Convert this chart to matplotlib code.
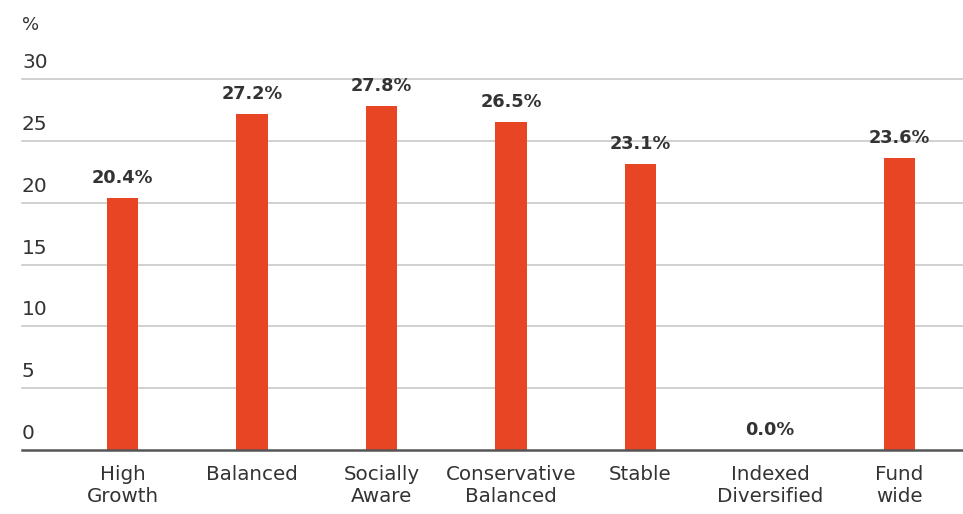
import matplotlib.pyplot as plt
from matplotlib.transforms import blended_transform_factory, offset_copy

categories = ["High\nGrowth", "Balanced", "Socially\nAware", "Conservative\nBalanced",
              "Stable", "Indexed\nDiversified", "Fund\nwide"]
values = [20.4, 27.2, 27.8, 26.5, 23.1, 0.0, 23.6]
labels = ["20.4%", "27.2%", "27.8%", "26.5%", "23.1%", "0.0%", "23.6%"]
yticks = [0, 5, 10, 15, 20, 25, 30]

plt.rcParams["font.family"] = ["DejaVu Sans"]
text_col = "#333333"
bar_col = "#E84524"

fig = plt.figure(figsize=(9.63, 5.14), dpi=100)
ax = fig.add_axes([0.0228, 0.1245, 0.9772, 0.7218])

x = list(range(len(categories)))
ax.bar(x, values, width=0.24, color=bar_col, zorder=3)

ax.set_xlim(-0.776, 6.49)
ax.set_ylim(0, 30)

# gridlines
for t in yticks[1:]:
    ax.axhline(t, color="#c8c8c8", lw=1.2, zorder=1, clip_on=False)
ax.axhline(0, color="#555555", lw=1.8, zorder=4, clip_on=False)

for s in ax.spines.values():
    s.set_visible(False)
ax.set_yticks([])
ax.set_xticks(x)
ax.set_xticklabels(categories, fontsize=14.3, color=text_col, linespacing=1.2)
ax.tick_params(axis="x", length=0, pad=11)

# y tick labels sit above gridlines
tr = offset_copy(blended_transform_factory(ax.transAxes, ax.transData), fig=fig, x=0, y=5, units="points")
for t in yticks:
    ax.text(0, t, str(t), transform=tr, ha="left", va="bottom", fontsize=14.5, color=text_col)
ax.text(0, 1.145, "%", transform=ax.transAxes, ha="left", va="center", fontsize=13, color=text_col)

# value labels
for xi, v, lab in zip(x, values, labels):
    ax.annotate(lab, (xi, v), xytext=(0, 8), textcoords="offset points", ha="center", va="bottom",
                fontsize=12.8, fontweight="bold", color=text_col, clip_on=False)

fig.savefig("out.png", dpi=100)
